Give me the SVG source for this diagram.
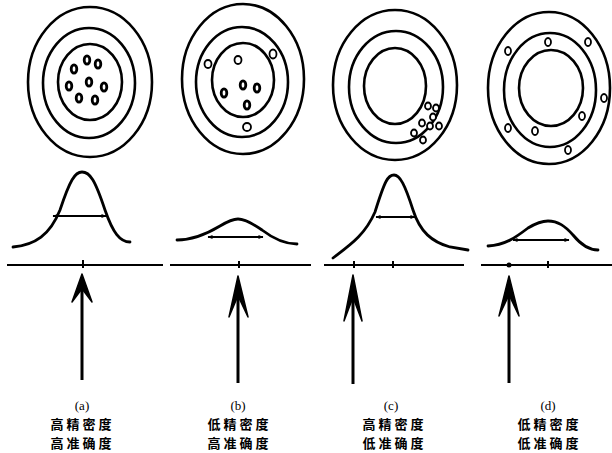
<svg xmlns="http://www.w3.org/2000/svg" width="612" height="453" viewBox="0 0 612 453">
<defs>
<style>
.ring{fill:none;stroke:#000;stroke-width:2.6}
.dot{fill:#fff;stroke:#000;stroke-width:1.8}
.hit{fill:#fff;stroke:#000;stroke-width:2.8}
.curve{fill:none;stroke:#000;stroke-width:2.8;stroke-linecap:round}
.width{fill:none;stroke:#000;stroke-width:1.8}
.base{fill:none;stroke:#000;stroke-width:2}
.tick{stroke:#000;stroke-width:2}
.shaft{stroke:#000;stroke-width:3;fill:none}
.head{fill:#000;stroke:#000;stroke-width:1.5;stroke-linejoin:round}
.lbl{font-family:"Liberation Serif","Noto Sans CJK SC",serif;font-size:13px;text-anchor:middle;fill:#000}
.cn{font-family:"Noto Sans CJK SC",sans-serif;font-size:13px;font-weight:bold;letter-spacing:3px;text-anchor:middle;fill:#000}
</style>
<marker id="ah" viewBox="0 0 10 10" refX="9" refY="5" markerWidth="7" markerHeight="5" orient="auto-start-reverse" markerUnits="userSpaceOnUse">
<path d="M0,1 L10,5 L0,9 Z" fill="#000"/>
</marker>
</defs>

<g id="target-a">
<ellipse class="ring" cx="90" cy="82" rx="62" ry="75"/>
<ellipse class="ring" cx="89" cy="83" rx="46" ry="55"/>
<ellipse class="ring" cx="90" cy="82" rx="32" ry="38"/>
<ellipse class="hit" cx="87" cy="60" rx="2.8" ry="4.2"/>
<ellipse class="hit" cx="98" cy="64" rx="2.8" ry="4.2"/>
<ellipse class="hit" cx="74" cy="69" rx="2.8" ry="4.2"/>
<ellipse class="hit" cx="89" cy="82" rx="2.8" ry="4.2"/>
<ellipse class="hit" cx="69" cy="86" rx="2.8" ry="4.2"/>
<ellipse class="hit" cx="104" cy="87" rx="2.8" ry="4.2"/>
<ellipse class="hit" cx="79" cy="98" rx="2.8" ry="4.2"/>
<ellipse class="hit" cx="95" cy="100" rx="2.8" ry="4.2"/>
</g>

<g id="target-b">
<ellipse class="ring" cx="243" cy="79" rx="61" ry="75"/>
<ellipse class="ring" cx="242" cy="82" rx="46" ry="55"/>
<ellipse class="ring" cx="243" cy="80" rx="31" ry="37"/>
<ellipse class="dot" cx="238" cy="60" rx="3.5" ry="4"/>
<ellipse class="dot" cx="208" cy="64" rx="3.5" ry="4"/>
<ellipse class="dot" cx="273" cy="54" rx="3.5" ry="4.5"/>
<ellipse class="dot" cx="247" cy="127" rx="4" ry="4"/>
<ellipse class="hit" cx="243" cy="85" rx="2.8" ry="4.2"/>
<ellipse class="hit" cx="257" cy="88" rx="2.8" ry="4.2"/>
<ellipse class="hit" cx="224" cy="93" rx="2.8" ry="4.2"/>
<ellipse class="hit" cx="247" cy="105" rx="2.8" ry="4.2"/>
</g>

<g id="target-c">
<ellipse class="ring" cx="395" cy="85" rx="62" ry="75"/>
<ellipse class="ring" cx="396" cy="87" rx="47" ry="56"/>
<ellipse class="ring" cx="395" cy="86" rx="31" ry="38"/>
<ellipse class="dot" cx="428" cy="106" rx="3" ry="3.5"/>
<ellipse class="dot" cx="436" cy="108" rx="3" ry="3.5"/>
<ellipse class="dot" cx="433" cy="117" rx="3" ry="3.5"/>
<ellipse class="dot" cx="422" cy="123" rx="3" ry="3.5"/>
<ellipse class="dot" cx="430" cy="126" rx="3" ry="3.5"/>
<ellipse class="dot" cx="439" cy="126" rx="3" ry="3.5"/>
<ellipse class="dot" cx="414" cy="133" rx="3" ry="3.5"/>
<ellipse class="dot" cx="423" cy="140" rx="3" ry="3.5"/>
</g>

<g id="target-d">
<ellipse class="ring" cx="549" cy="88" rx="61" ry="76"/>
<ellipse class="ring" cx="550" cy="90" rx="46" ry="57"/>
<ellipse class="ring" cx="551" cy="88" rx="32" ry="38"/>
<ellipse class="dot" cx="548" cy="42" rx="3" ry="4"/>
<ellipse class="dot" cx="588" cy="42" rx="3" ry="4"/>
<ellipse class="dot" cx="508" cy="51" rx="3" ry="4"/>
<ellipse class="dot" cx="604" cy="98" rx="3" ry="4"/>
<ellipse class="dot" cx="582" cy="116" rx="3" ry="4"/>
<ellipse class="dot" cx="508" cy="128" rx="3" ry="4"/>
<ellipse class="dot" cx="535" cy="131" rx="3" ry="4"/>
<ellipse class="dot" cx="568" cy="150" rx="3" ry="4"/>
</g>

<g id="curves">
<path class="curve" d="M13,247 C35,245 50,235 60,210 C70,180 75,172 82,172 C90,172 95,180 105,210 C113,233 120,242 130,242"/>
<line class="width" x1="53" y1="216" x2="106" y2="216" marker-start="url(#ah)" marker-end="url(#ah)"/>
<path class="curve" d="M177,240 C195,240 210,232 220,226 C230,220 234,219 238,219 C245,219 252,223 262,230 C275,240 285,244 297,244"/>
<line class="width" x1="208" y1="237" x2="263" y2="237" marker-start="url(#ah)" marker-end="url(#ah)"/>
<path class="curve" d="M333,258 C350,245 365,235 375,212 C385,180 388,175 394,175 C400,175 405,185 413,210 C420,232 432,242 450,247 L468,250"/>
<line class="width" x1="376" y1="217" x2="415" y2="217" marker-start="url(#ah)" marker-end="url(#ah)"/>
<path class="curve" d="M488,246 C505,245 515,238 528,228 C538,222 543,221 548,221 C558,221 565,226 573,235 C582,246 590,250 598,250"/>
<line class="width" x1="513" y1="240" x2="569" y2="240" marker-start="url(#ah)" marker-end="url(#ah)"/>
</g>

<g id="axis">
<line class="base" x1="7" y1="265" x2="163" y2="265"/>
<line class="base" x1="170" y1="265" x2="311" y2="265"/>
<line class="base" x1="324" y1="265" x2="464" y2="265"/>
<line class="base" x1="481" y1="265" x2="612" y2="265"/>
<line class="tick" x1="83" y1="260" x2="83" y2="268"/>
<line class="tick" x1="239" y1="261" x2="239" y2="268"/>
<line class="tick" x1="354" y1="261" x2="354" y2="268"/>
<line class="tick" x1="393" y1="261" x2="393" y2="268"/>
<circle cx="509" cy="265" r="2.5" fill="#000"/>
<line class="tick" x1="548" y1="261" x2="548" y2="268"/>
</g>

<g id="arrows">
<line class="shaft" x1="82" y1="285" x2="82" y2="380"/>
<path class="head" d="M82,274 L72,302 L81,290 L83,290 L92,302 Z"/>
<line class="shaft" x1="238" y1="285" x2="238" y2="383"/>
<path class="head" d="M238,276 L229,317 L237,298 L239,298 L248,317 Z"/>
<line class="shaft" x1="353" y1="285" x2="353" y2="384"/>
<path class="head" d="M353,275 L344,321 L352,300 L354,300 L362,321 Z"/>
<line class="shaft" x1="509" y1="285" x2="509" y2="383"/>
<path class="head" d="M509,276 L499,316 L508,297 L510,297 L519,316 Z"/>
</g>

<g id="label-a">
<text class="lbl" x="82" y="410">(a)</text>
<text class="cn" x="82.5" y="429">高精密度</text>
<text class="cn" x="82.5" y="448">高准确度</text>
</g>
<g id="label-b">
<text class="lbl" x="238" y="410">(b)</text>
<text class="cn" x="239.5" y="429">低精密度</text>
<text class="cn" x="239.5" y="448">高准确度</text>
</g>
<g id="label-c">
<text class="lbl" x="391" y="410">(c)</text>
<text class="cn" x="394.5" y="429">高精密度</text>
<text class="cn" x="394.5" y="448">低准确度</text>
</g>
<g id="label-d">
<text class="lbl" x="548" y="410">(d)</text>
<text class="cn" x="549.5" y="429">低精密度</text>
<text class="cn" x="549.5" y="448">低准确度</text>
</g>
</svg>
